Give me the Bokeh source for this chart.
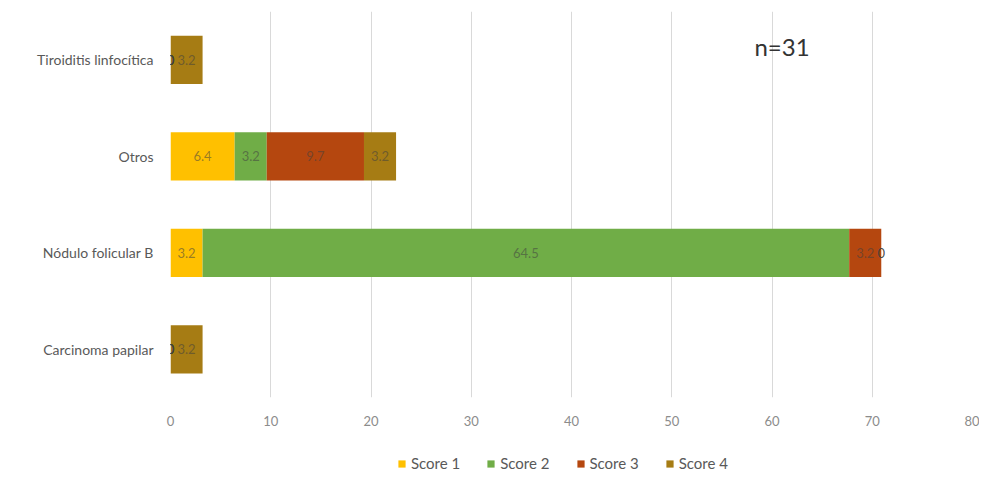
from bokeh.plotting import figure
from bokeh.models import ColumnDataSource, FactorRange, FixedTicker, Legend, LegendItem
from bokeh.layouts import column
from bokeh.core.properties import value
from bokeh.embed import file_html
from bokeh.resources import INLINE

categories = ["Carcinoma papilar", "Nódulo folicular B", "Otros", "Tiroiditis linfocítica"]
score_names = ["Score 1", "Score 2", "Score 3", "Score 4"]
score1 = [0, 3.2, 6.4, 0]
score2 = [0, 64.5, 3.2, 0]
score3 = [0, 3.2, 9.7, 0]
score4 = [3.2, 0, 3.2, 3.2]
x_ticks = [0, 10, 20, 30, 40, 50, 60, 70, 80]
annotation = "n=31"

colors = ["#FFC000", "#70AD47", "#B5470F", "#A67C14"]
FONT = "Lato"

keys = ["s1", "s2", "s3", "s4"]
source = ColumnDataSource(dict(cat=categories, s1=score1, s2=score2, s3=score3, s4=score4))

p = figure(width=979, height=447, y_range=FactorRange(factors=categories, range_padding=0),
           x_range=(0, 80), output_backend="svg", toolbar_location=None,
           min_border_left=170, min_border_right=7, min_border_top=11, min_border_bottom=50)

p.hbar_stack(keys, y="cat", height=0.5, color=colors, source=source, line_width=0)

# data labels
lx, ly, lt, la = [], [], [], []
series = [score1, score2, score3, score4]
for i, c in enumerate(categories):
    left = 0.0
    for s in series:
        v = s[i]
        lx.append(left + v / 2)
        ly.append(c)
        lt.append("0" if v == 0 else f"{v:g}")
        la.append(0.95 if v == 0 else 0.55)
        left += v
lsrc = ColumnDataSource(dict(x=lx, y=ly, t=lt, a=la))
p.text(x="x", y="y", text="t", source=lsrc, text_color="#404040", text_alpha="a",
       text_font=value(FONT), text_font_size="13px", text_align="center",
       text_baseline="middle")

nsrc = ColumnDataSource(dict(x=[61], y=[categories[-1]], t=[annotation]))
p.text(x="x", y="y", text="t", source=nsrc, text_color="#333333",
       text_font=value(FONT), text_font_size="24px", text_align="center",
       text_baseline="middle", y_offset=-13)

p.xaxis.ticker = FixedTicker(ticks=x_ticks)
p.xaxis.axis_line_color = None
p.xaxis.major_tick_line_color = None
p.xaxis.minor_tick_line_color = None
p.xaxis.major_label_text_color = "#8c8c8c"
p.xaxis.major_label_text_font = FONT
p.xaxis.major_label_text_font_size = "13px"
p.xaxis.major_label_standoff = 12

p.yaxis.axis_line_color = None
p.yaxis.major_tick_line_color = None
p.yaxis.minor_tick_line_color = None
p.yaxis.major_label_text_color = "#595959"
p.yaxis.major_label_text_font = FONT
p.yaxis.major_label_text_font_size = "14px"
p.yaxis.major_label_standoff = 11

p.xgrid.grid_line_color = "#d9d9d9"
p.ygrid.grid_line_color = None
p.outline_line_color = None

# legend strip: a separate figure whose bar renderers are hidden (legend only)
p2 = figure(width=979, height=26, y_range=FactorRange(factors=categories),
            x_range=(0, 80), output_backend="svg", toolbar_location=None,
            x_axis_location=None, y_axis_location=None,
            min_border_left=0, min_border_right=0, min_border_top=0, min_border_bottom=0)
p2.grid.visible = False
p2.outline_line_color = None
leg_renderers = []
for k, col in zip(keys, colors):
    r = p2.hbar(y="cat", left=0, right=k, height=0.5, color=col, source=source, line_width=0)
    r.visible = False
    leg_renderers.append(r)

lg = Legend(items=[LegendItem(label=n, renderers=[r]) for n, r in zip(score_names, leg_renderers)])
lg.orientation = "horizontal"
lg.location = (227, 1)
lg.border_line_color = None
lg.background_fill_alpha = 0
lg.inactive_fill_alpha = 0
lg.padding = 0
lg.margin = 0
lg.glyph_width = 9
lg.glyph_height = 9
lg.label_standoff = 5
lg.spacing = 26
lg.label_text_font = FONT
lg.label_text_font_size = "15px"
lg.label_text_color = "#595959"
p2.add_layout(lg, "center")

open("out.html", "w").write(file_html(column(p, p2), INLINE))
